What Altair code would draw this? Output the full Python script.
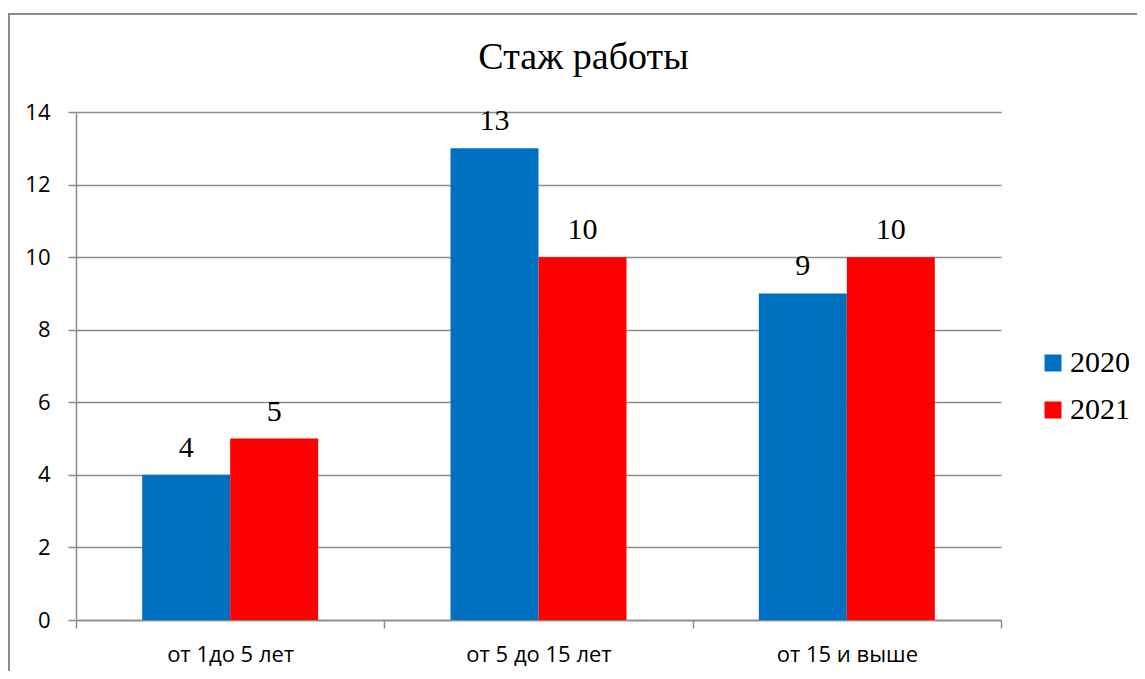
import altair as alt
import pandas as pd

categories = ["от 1до 5 лет", "от 5 до 15 лет", "от 15 и выше"]
years = ["2020", "2021"]
values_2020 = [4, 13, 9]
values_2021 = [5, 10, 10]
y_ticks = [0, 2, 4, 6, 8, 10, 12, 14]
colors = ["#0070C0", "#FF0000"]

rows = []
for c, a, b in zip(categories, values_2020, values_2021):
    rows.append({"cat": c, "year": years[0], "val": a})
    rows.append({"cat": c, "year": years[1], "val": b})
df = pd.DataFrame(rows)

GRAY = "#8c8c8c"
SANS = "Open Sans"
SERIF = "Liberation Serif"

x = alt.X("cat:N", sort=categories, title=None,
          scale=alt.Scale(paddingInner=0, paddingOuter=0),
          axis=alt.Axis(labelAngle=0, labelFont=SANS, labelFontSize=22,
                        labelColor="#000000", labelPadding=16,
                        tickBand="extent", tickSize=8, tickColor=GRAY,
                        tickWidth=1.5, domainColor=GRAY, domainWidth=1.5,
                        grid=False))
xo = alt.XOffset("year:N", sort=years,
                 scale=alt.Scale(paddingInner=0, paddingOuter=0.752))
y = alt.Y("val:Q", title=None,
          scale=alt.Scale(domain=[0, 14], nice=False),
          axis=alt.Axis(values=y_ticks, labelFont=SANS, labelFontSize=22,
                        labelColor="#000000", labelPadding=18, tickSize=8,
                        tickColor=GRAY, tickWidth=1.5, domainColor=GRAY,
                        domainWidth=1.5, grid=True, gridColor=GRAY,
                        gridWidth=1.5))

bars = alt.Chart(df).mark_bar().encode(
    x=x, xOffset=xo, y=y,
    color=alt.Color("year:N", sort=years,
                    scale=alt.Scale(domain=years, range=colors),
                    legend=alt.Legend(title=None, orient="none",
                                      legendX=962, legendY=236,
                                      symbolType="square", symbolSize=289,
                                      symbolStrokeWidth=0, labelFont=SERIF,
                                      labelFontSize=30, labelColor="#000000",
                                      labelOffset=2, rowPadding=17,
                                      padding=0)),
)

labels = alt.Chart(df).mark_text(font=SERIF, fontSize=30, color="#000000",
                                 baseline="alphabetic", dy=-18).encode(
    x=x, xOffset=xo, y=y, text="val:Q",
)

frame = alt.Chart(pd.DataFrame({"k": [0]})).mark_rect(
    fill=None, stroke=GRAY, strokeWidth=2).encode(
    x=alt.value(-67), x2=alt.value(1150),
    y=alt.value(-98), y2=alt.value(650),
)

chart = alt.layer(frame, bars, labels).properties(
    width=925, height=508,
    padding={"left": 68, "top": 104, "right": 136, "bottom": 51},
    autosize=alt.AutoSizeParams(type="none"),
    title=alt.TitleParams("Стаж работы", font=SERIF, fontSize=38,
                          fontWeight="normal", color="#000000",
                          anchor="middle", frame="group", dx=45,
                          baseline="alphabetic", offset=0, dy=94),
).configure_view(stroke=None)

chart.save("out.html", embed_options={"renderer": "svg", "actions": False})
